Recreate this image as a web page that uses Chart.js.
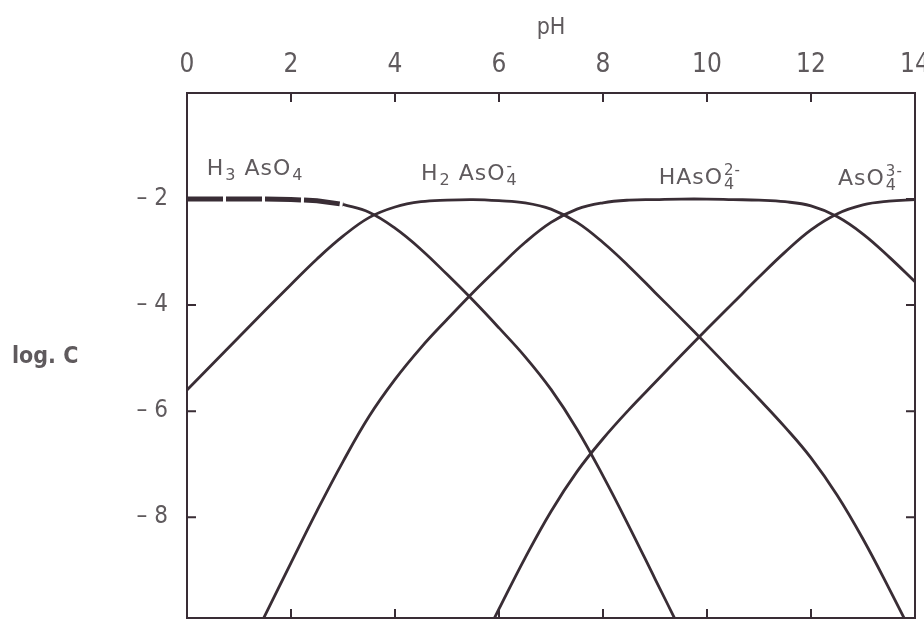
<!DOCTYPE html>
<html>
<head>
<meta charset="utf-8">
<title>log C – pH</title>
<script src="https://cdn.jsdelivr.net/npm/chart.js@4.4.1/dist/chart.umd.min.js"></script>
<style>
  html, body { margin: 0; padding: 0; background: #fff; }
  canvas { display: block; }
</style>
</head>
<body>
<canvas id="chart" width="924" height="619"></canvas>
<script>
/* --------------------------
   DATA
--------------------------- */
const pH = [0, 0.5, 1, 1.5, 2, 2.5, 3, 3.5, 4, 4.5, 5, 5.5, 6, 6.5, 7,
            7.5, 8, 8.5, 9, 9.5, 10, 10.5, 11, 11.5, 12, 12.5, 13, 13.5, 14];

const H3AsO4 = [-2.00, -2.00, -2.00, -2.00, -2.01, -2.03, -2.10, -2.25, -2.55, -2.95, -3.42, -3.91, -4.43, -4.97, -5.59,
                -6.34, -7.22, -8.17, -9.16, -10.15, -11.15, null, null, null, null, null, null, null, null];
const H2AsO4 = [-5.60, -5.10, -4.60, -4.10, -3.61, -3.13, -2.70, -2.35, -2.15, -2.05, -2.02, -2.01, -2.03, -2.07, -2.19,
                -2.44, -2.82, -3.27, -3.76, -4.25, -4.75, -5.26, -5.77, -6.30, -6.88, -7.58, -8.41, -9.34, -10.31];
const HAsO4  = [-12.85, -11.85, -10.85, -9.85, -8.86, -7.88, -6.95, -6.10, -5.40, -4.80, -4.27, -3.76, -3.28, -2.82, -2.44,
                -2.19, -2.07, -2.02, -2.01, -2.00, -2.00, -2.01, -2.02, -2.05, -2.13, -2.33, -2.66, -3.09, -3.56];
const AsO4   = [null, null, null, null, null, null, null, null, -13.85, -12.75, -11.72, -10.71, -9.73, -8.77, -7.89,
                -7.14, -6.52, -5.97, -5.46, -4.95, -4.45, -3.96, -3.47, -3.00, -2.58, -2.28, -2.11, -2.04, -2.01];

// the H3AsO4 plateau is drawn as a heavy dashed stroke up to this pH
const dashedUntil = 3;

const xTicks = [0, 2, 4, 6, 8, 10, 12, 14];
const yTicks = [-2, -4, -6, -8];
const innerXTicks = [2, 4, 6, 8, 10, 12];
const innerYTicks = [-2, -4, -6, -8];

// species labels: [text, subscript, superscript] pieces
const speciesLabels = [
  [['H'], ['', '3'], [' AsO'], ['', '4']],
  [['H'], ['', '2'], [' AsO'], ['', '4', '-']],
  [['HAsO'], ['', '4', '2-']],
  [['AsO'], ['', '4', '3-']]
];
const labelPH   = [0.38, 4.5, 9.07, 12.52];
const labelLogC = [-1.55, -1.64, -1.72, -1.73];

/* --------------------------
   STYLE
--------------------------- */
const INK = '#392d35';
const TXT = '#5f5a5d';
const FAMILY = '"DejaVu Sans Condensed", "Liberation Sans Narrow", "DejaVu Sans", sans-serif';
const LABEL_FAMILY = '"DejaVu Sans", sans-serif';

function pts(arr, from, to) {
    let out = [];
    pH.forEach((x, i) => {
        if (arr[i] === null) return;
        if (from !== undefined && x < from) return;
        if (to !== undefined && x > to) return;
        out.push({x: x, y: arr[i]});
    });
    return out;
}

function curve(label, data) {
    return {
        label: label,
        data: data,
        borderColor: INK,
        borderWidth: 2.8,
        pointRadius: 0,
        fill: false,
        tension: 0.4
    };
}

/* --------------------------
   FRAME, INNER TICKS, LABELS
--------------------------- */
const decor = {
    id: 'decor',
    afterDatasetsDraw(chart) {
        const {ctx, chartArea: a, scales: {x, y}} = chart;
        ctx.save();
        ctx.strokeStyle = INK;
        ctx.lineWidth = 2;
        ctx.strokeRect(a.left, a.top, a.right - a.left, a.bottom - a.top);

        ctx.beginPath();
        innerXTicks.forEach(v => {
            let px = x.getPixelForValue(v);
            ctx.moveTo(px, a.top); ctx.lineTo(px, a.top + 9);
            ctx.moveTo(px, a.bottom); ctx.lineTo(px, a.bottom - 9);
        });
        innerYTicks.forEach(v => {
            let py = y.getPixelForValue(v);
            ctx.moveTo(a.left, py); ctx.lineTo(a.left + 9, py);
            ctx.moveTo(a.right, py); ctx.lineTo(a.right - 9, py);
        });
        ctx.stroke();

        // species names with sub/superscripts
        ctx.fillStyle = TXT;
        ctx.textBaseline = 'alphabetic';
        ctx.textAlign = 'left';
        ctx.letterSpacing = '1px';
        speciesLabels.forEach((parts, k) => {
            let cx = x.getPixelForValue(labelPH[k]);
            let by = y.getPixelForValue(labelLogC[k]);
            parts.forEach(p => {
                if (p[0]) {
                    ctx.font = '22px ' + LABEL_FAMILY;
                    ctx.fillText(p[0], cx, by);
                    cx += ctx.measureText(p[0]).width;
                }
                if (p[1]) {
                    ctx.font = '16px ' + LABEL_FAMILY;
                    ctx.fillText(p[1], cx + 1, by + 5);
                    let w = ctx.measureText(p[1]).width;
                    if (p[2]) {
                        ctx.font = '15px ' + LABEL_FAMILY;
                        ctx.fillText(p[2], cx + 1, by - 9);
                        w = Math.max(w, ctx.measureText(p[2]).width);
                    }
                    cx += w + 1;
                }
            });
        });
        ctx.letterSpacing = '0px';

        // y-axis title, written horizontally
        ctx.font = 'bold 23px ' + FAMILY;
        ctx.textBaseline = 'middle';
        ctx.fillText('log. C', 12, (a.top + a.bottom) / 2 + 2);
        ctx.restore();
    }
};

/* --------------------------
   CHART
--------------------------- */
let ctx = document.getElementById('chart').getContext('2d');

let chart = new Chart(ctx, {
    type: 'line',
    data: {
        datasets: [
            Object.assign(curve('H3AsO4', pts(H3AsO4, undefined, dashedUntil + 0.1)), {
                borderWidth: 5,
                borderDash: [36, 3],
                tension: 0
            }),
            curve('H3AsO4', pts(H3AsO4, dashedUntil)),
            curve('H2AsO4-', pts(H2AsO4)),
            curve('HAsO4 2-', pts(HAsO4)),
            curve('AsO4 3-', pts(AsO4))
        ]
    },
    options: {
        responsive: false,
        animation: false,
        layout: { padding: { left: 0, right: 9, top: 0, bottom: 1 } },
        plugins: {
            legend: { display: false },
            tooltip: { enabled: false }
        },
        scales: {
            x: {
                type: 'linear',
                position: 'top',
                min: 0,
                max: 14,
                afterBuildTicks: s => { s.ticks = xTicks.map(v => ({value: v})); },
                afterFit: s => { s.height = 93; s.paddingLeft = 0; s.paddingRight = 0; },
                grid: { display: false, drawTicks: false },
                border: { display: false },
                ticks: {
                    padding: 12,
                    color: TXT,
                    autoSkip: false,
                    maxRotation: 0,
                    font: { size: 26, family: FAMILY }
                },
                title: {
                    display: true,
                    text: 'pH',
                    color: TXT,
                    font: { size: 23, family: FAMILY },
                    padding: { top: 14, bottom: 0 }
                }
            },
            y: {
                type: 'linear',
                position: 'left',
                min: -9.9,
                max: 0,
                afterBuildTicks: s => { s.ticks = yTicks.map(v => ({value: v})); },
                afterFit: s => { s.width = 187; s.paddingTop = 0; s.paddingBottom = 0; },
                grid: { display: false, drawTicks: false },
                border: { display: false },
                ticks: {
                    padding: 19,
                    color: TXT,
                    font: { size: 24, family: FAMILY },
                    callback: v => '\u2013 ' + Math.abs(v)
                }
            }
        }
    },
    plugins: [decor]
});
</script>
</body>
</html>
